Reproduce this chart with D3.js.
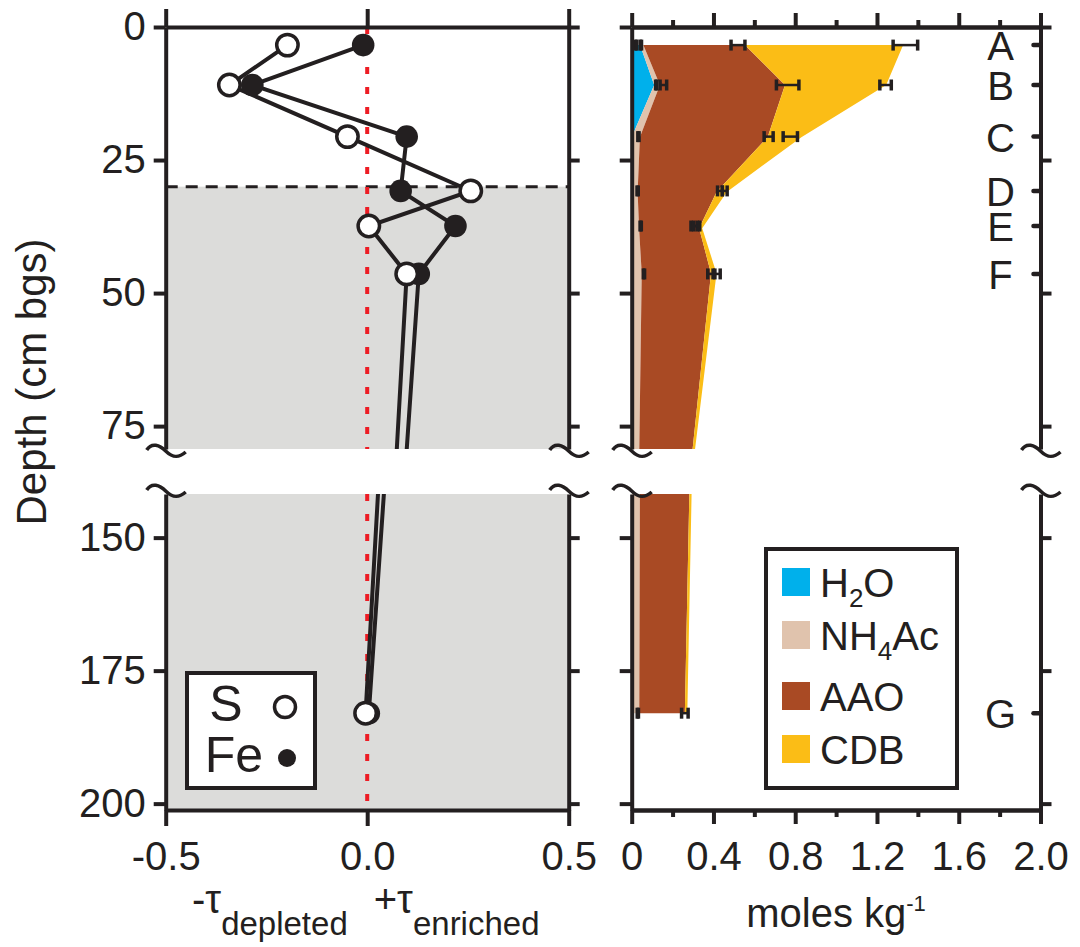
<!DOCTYPE html>
<html>
<head>
<meta charset="utf-8">
<script src="https://cdn.jsdelivr.net/npm/d3@7"></script>
<style>
  body { margin: 0; background: #fff; }
</style>
</head>
<body>
<script>
// ---- data ----
var sampleNames = ["A", "B", "C", "D", "E", "F", "G"];
var sampleDepth = [3.4, 10.9, 20.6, 30.8, 37.4, 46.4, 183];

// tau values (left panel)
var tauS = [-0.198, -0.342, -0.049, 0.257, 0.004, 0.098, -0.004];
var tauFe = [-0.01, -0.285, 0.098, 0.083, 0.219, 0.128, 0.004];

// sequential extractions, moles kg-1 (right panel)
var extractKeys = ["H2O", "NH4Ac", "AAO", "CDB"];
var extractDepth = [3.4, 10.9, 20.7, 31, 37.8, 46.3, 79.3, 141.8, 183];
var h2o = [0.041, 0.11, 0, 0, 0, 0, 0, 0, 0];
var nh4ac = [0.016, 0.028, 0.04, 0.029, 0.036, 0.049, 0.037, 0.04, 0.037];
var aao = [0.497, 0.612, 0.625, 0.386, 0.294, 0.339, 0.261, 0.242, 0.223];
var cdb = [0.774, 0.495, 0.165, 0.05, 0.015, 0.027, 0.012, 0.011, 0.012];

// error bars: sample, cumulative centre, half width
var errSample = ["A", "A", "A", "A", "B", "B", "B", "B", "C", "C", "C", "D", "D", "D", "E", "E", "E", "F", "F", "F", "G", "G"];
var errMid = [0.022, 0.045, 0.52, 1.339, 0.12, 0.155, 0.763, 1.242, 0.033, 0.67, 0.776, 0.029, 0.432, 0.455, 0.044, 0.305, 0.318, 0.06, 0.385, 0.42, 0.03, 0.26];
var errHalf = [0.003, 0.003, 0.034, 0.06, 0.003, 0.016, 0.055, 0.028, 0.003, 0.022, 0.035, 0.003, 0.012, 0.012, 0.003, 0.015, 0.015, 0.003, 0.013, 0.013, 0.003, 0.016];

// axis ticks
var tauTicks = [-0.5, 0, 0.5];
var molTicks = [0, 0.4, 0.8, 1.2, 1.6, 2.0];
var molMinor = [0.2, 0.6, 1.0, 1.4, 1.8];
var depthTicksUpper = [0, 25, 50, 75];
var depthTicksLower = [150, 175, 200];

var anoxicTop = 30;   // dashed line / grey zone top

var colors = { H2O: "#00b0eb", NH4Ac: "#e0c3ad", AAO: "#a94a24", CDB: "#fbbd16" };
var ink = "#231f20";
var FONT = "'Liberation Sans', Arial, Helvetica, sans-serif";

// ---- layout ----
var svgWidth = 1080;
var svgHeight = 947;

var svg = d3.select("body")
    .append("svg")
    .attr("width", svgWidth)
    .attr("height", svgHeight)
    .style("display", "block");

var xTau = d3.scaleLinear().domain([-0.5, 0.5]).range([165.7, 568.7]);
var xMol = d3.scaleLinear().domain([0, 2]).range([631.7, 1040.5]);

// broken depth axis: two linear pieces with the same px/cm
var yUp = d3.scaleLinear().domain([0, 79.3]).range([27, 449]);
var yLo = d3.scaleLinear().domain([141.8, 201.5]).range([494, 811.6]);

var segments = [
  { name: "up", y: yUp, top: 27, bottom: 449, ticks: depthTicksUpper, brk: 451 },
  { name: "lo", y: yLo, top: 494, bottom: 810, ticks: depthTicksLower, brk: 491 }
];

function yOf(depth) {
  return depth < 110 ? yUp(depth) : yLo(depth);
}

// plain hyphen for negatives, as in the original figure
var fmt1 = function (d) { return d3.format(".1f")(d).replace("\u2212", "-"); };

var defs = svg.append("defs");
segments.forEach(function (s) {
  defs.append("clipPath").attr("id", "clip-" + s.name)
      .append("rect")
      .attr("x", 0).attr("width", svgWidth)
      .attr("y", s.top).attr("height", s.bottom - s.top);
});

function styleAxis(g) {
  g.selectAll("path, line").attr("stroke", ink).attr("stroke-width", 4);
  g.selectAll("text").attr("font-family", FONT).attr("font-size", 40).attr("fill", ink);
}

// squiggle for the axis break
function drawBreak(x, y) {
  svg.append("path")
      .attr("d", "M-19,-1 C-14,-9 -6,-6 0,0 S12,8 20,1")
      .attr("transform", `translate(${x},${y})`)
      .attr("fill", "none")
      .attr("stroke", ink)
      .attr("stroke-width", 3.5);
}

// ================= left panel (tau) =================
var left = svg.append("g");

// grey zone below the dashed line
left.append("rect")
    .attr("x", xTau(-0.5)).attr("width", xTau(0.5) - xTau(-0.5))
    .attr("y", yUp(anoxicTop)).attr("height", yUp.range()[1] - yUp(anoxicTop))
    .attr("fill", "#dcdcda");
left.append("rect")
    .attr("x", xTau(-0.5)).attr("width", xTau(0.5) - xTau(-0.5))
    .attr("y", 494).attr("height", 810 - 494)
    .attr("fill", "#dcdcda");

left.append("line")
    .attr("x1", xTau(-0.5)).attr("x2", xTau(0.5))
    .attr("y1", yUp(anoxicTop)).attr("y2", yUp(anoxicTop))
    .attr("stroke", ink).attr("stroke-width", 3)
    .attr("stroke-dasharray", "12,8");

// red zero line
segments.forEach(function (s) {
  left.append("line")
      .attr("x1", xTau(0)).attr("x2", xTau(0))
      .attr("y1", s.top).attr("y2", s.bottom)
      .attr("stroke", "#ed1c24").attr("stroke-width", 4)
      .attr("stroke-dasharray", "7,13");
});

var tauRows = sampleDepth.map(function (d, i) {
  return { depth: d, S: tauS[i], Fe: tauFe[i] };
});

segments.forEach(function (s) {
  ["S", "Fe"].forEach(function (k) {
    var line = d3.line()
        .x(d => xTau(d[k]))
        .y(d => s.y(d.depth));
    left.append("path")
        .datum(tauRows)
        .attr("clip-path", "url(#clip-" + s.name + ")")
        .attr("d", line)
        .attr("fill", "none")
        .attr("stroke", ink)
        .attr("stroke-width", 4)
        .attr("stroke-linejoin", "miter");
  });
});

left.selectAll(".fe")
    .data(tauRows)
    .enter()
    .append("circle")
    .attr("class", "fe")
    .attr("cx", d => xTau(d.Fe))
    .attr("cy", d => yOf(d.depth))
    .attr("r", 11.3)
    .attr("fill", ink);

left.selectAll(".s")
    .data(tauRows)
    .enter()
    .append("circle")
    .attr("class", "s")
    .attr("cx", d => xTau(d.S))
    .attr("cy", d => yOf(d.depth))
    .attr("r", 10.7)
    .attr("fill", "#fff")
    .attr("stroke", ink)
    .attr("stroke-width", 3.5);

// ================= right panel (extractions) =================
var right = svg.append("g");

var extractRows = extractDepth.map(function (d, i) {
  return { depth: d, H2O: h2o[i], NH4Ac: nh4ac[i], AAO: aao[i], CDB: cdb[i] };
});
var stacked = d3.stack().keys(extractKeys)(extractRows);

segments.forEach(function (s) {
  var area = d3.area()
      .y(d => s.y(d.data.depth))
      .x0(d => xMol(d[0]))
      .x1(d => xMol(d[1]));
  right.append("g")
      .attr("clip-path", "url(#clip-" + s.name + ")")
      .selectAll("path")
      .data(stacked)
      .enter()
      .append("path")
      .attr("d", area)
      .attr("fill", d => colors[d.key]);
});

// error bars
var errRows = errMid.map(function (m, i) {
  return { depth: sampleDepth[sampleNames.indexOf(errSample[i])], lo: m - errHalf[i], hi: m + errHalf[i] };
});
var errG = right.selectAll(".err")
    .data(errRows)
    .enter()
    .append("g")
    .attr("class", "err")
    .attr("transform", d => `translate(0,${yOf(d.depth)})`);
errG.append("line")
    .attr("x1", d => xMol(d.lo)).attr("x2", d => xMol(d.hi))
    .attr("stroke", ink).attr("stroke-width", 2.5);
errG.append("line")
    .attr("x1", d => xMol(d.lo)).attr("x2", d => xMol(d.lo))
    .attr("y1", -5.5).attr("y2", 5.5)
    .attr("stroke", ink).attr("stroke-width", 3.5);
errG.append("line")
    .attr("x1", d => xMol(d.hi)).attr("x2", d => xMol(d.hi))
    .attr("y1", -5.5).attr("y2", 5.5)
    .attr("stroke", ink).attr("stroke-width", 3.5);

// ================= axes =================
// left panel
left.append("g")
    .attr("transform", `translate(0,27)`)
    .call(d3.axisTop(xTau).tickValues(tauTicks).tickSize(18).tickSizeOuter(0).tickFormat(""))
    .call(styleAxis);
left.append("g")
    .attr("transform", `translate(0,810)`)
    .call(d3.axisBottom(xTau).tickValues(tauTicks).tickSize(16).tickSizeOuter(0)
        .tickPadding(16).tickFormat(fmt1))
    .call(styleAxis);

// right panel
right.append("g")
    .attr("transform", `translate(0,27)`)
    .call(d3.axisTop(xMol).tickValues(molTicks).tickSize(14).tickSizeOuter(0).tickFormat(""))
    .call(styleAxis);
right.append("g")
    .attr("transform", `translate(0,27)`)
    .call(d3.axisTop(xMol).tickValues(molMinor).tickSize(7).tickSizeOuter(0).tickFormat(""))
    .call(styleAxis);
right.append("g")
    .attr("transform", `translate(0,810)`)
    .call(d3.axisBottom(xMol).tickValues(molTicks).tickSize(14).tickSizeOuter(0)
        .tickPadding(18).tickFormat(d => d === 0 ? "0" : fmt1(d)))
    .call(styleAxis);
right.append("g")
    .attr("transform", `translate(0,810)`)
    .call(d3.axisBottom(xMol).tickValues(molMinor).tickSize(7).tickSizeOuter(0).tickFormat(""))
    .call(styleAxis);

// depth axes for both panels, both segments
segments.forEach(function (s) {
  var yAxisScale = s.y.copy().domain([s.y.invert(s.top), s.y.invert(s.bottom)]).range([s.top, s.bottom]);

  left.append("g")
      .attr("transform", `translate(${xTau(-0.5)},0)`)
      .call(d3.axisLeft(yAxisScale).tickValues(s.ticks).tickSize(12).tickSizeOuter(0).tickPadding(8))
      .call(styleAxis);
  left.append("g")
      .attr("transform", `translate(${xTau(0.5)},0)`)
      .call(d3.axisRight(yAxisScale).tickValues(s.ticks).tickSize(11).tickSizeOuter(0).tickFormat(""))
      .call(styleAxis);
  right.append("g")
      .attr("transform", `translate(${xMol(0)},0)`)
      .call(d3.axisLeft(yAxisScale).tickValues(s.ticks).tickSize(12).tickSizeOuter(0).tickFormat(""))
      .call(styleAxis);
  right.append("g")
      .attr("transform", `translate(${xMol(2)},0)`)
      .call(d3.axisRight(yAxisScale).tickValues(s.ticks).tickSize(11).tickSizeOuter(0).tickFormat(""))
      .call(styleAxis);

  [xTau(-0.5), xTau(0.5), xMol(0), xMol(2)].forEach(function (x) {
    drawBreak(x, s.brk);
  });
});

// sample ticks and letters on the right axis
var sampleG = right.selectAll(".sample")
    .data(sampleNames)
    .enter()
    .append("g")
    .attr("class", "sample")
    .attr("transform", (d, i) => `translate(${xMol(2)},${yOf(sampleDepth[i])})`);
sampleG.append("line")
    .attr("x1", -7).attr("x2", 0)
    .attr("stroke", ink).attr("stroke-width", 4.5)
    .attr("stroke-linecap", "round");
sampleG.append("text")
    .attr("x", -40)
    .attr("y", 15)
    .attr("text-anchor", "middle")
    .attr("font-family", FONT)
    .attr("font-size", 40)
    .attr("fill", ink)
    .text(d => d);

// ================= legends =================
var legL = svg.append("g");
legL.append("rect")
    .attr("x", 187).attr("y", 673).attr("width", 128).attr("height", 115)
    .attr("fill", "#fff").attr("stroke", ink).attr("stroke-width", 4);
legL.append("text")
    .attr("x", 226).attr("y", 721)
    .attr("text-anchor", "middle")
    .attr("font-family", FONT).attr("font-size", 50).attr("fill", ink)
    .text("S");
legL.append("circle")
    .attr("cx", 285).attr("cy", 707).attr("r", 10.5)
    .attr("fill", "#fff").attr("stroke", ink).attr("stroke-width", 3.5);
legL.append("text")
    .attr("x", 234).attr("y", 772)
    .attr("text-anchor", "middle")
    .attr("font-family", FONT).attr("font-size", 50).attr("fill", ink)
    .text("Fe");
legL.append("circle")
    .attr("cx", 287).attr("cy", 758).attr("r", 9)
    .attr("fill", ink);

var legR = svg.append("g");
legR.append("rect")
    .attr("x", 766).attr("y", 549).attr("width", 191).attr("height", 239)
    .attr("fill", "#fff").attr("stroke", ink).attr("stroke-width", 4);

var legendLabels = [["H", "2", "O"], ["NH", "4", "Ac"], ["AAO", "", ""], ["CDB", "", ""]];
var legendY = [582, 635, 696, 749];
extractKeys.forEach(function (k, i) {
  legR.append("rect")
      .attr("x", 782).attr("y", legendY[i] - 14)
      .attr("width", 28).attr("height", 28)
      .attr("fill", colors[k]);
  var t = legR.append("text")
      .attr("x", 820).attr("y", legendY[i] + 15)
      .attr("font-family", FONT).attr("font-size", 40).attr("fill", ink);
  t.append("tspan").text(legendLabels[i][0]);
  if (legendLabels[i][1]) {
    t.append("tspan").attr("font-size", 26).attr("dy", 10).text(legendLabels[i][1]);
    t.append("tspan").attr("dy", -10).text(legendLabels[i][2]);
  }
});

// ================= axis titles =================
svg.append("text")
    .attr("transform", "translate(46,382) rotate(-90)")
    .attr("text-anchor", "middle")
    .attr("font-family", FONT).attr("font-size", 42).attr("fill", ink)
    .text("Depth (cm bgs)");

var tauTitle = svg.append("text")
    .attr("x", 192).attr("y", 913)
    .attr("font-family", FONT).attr("font-size", 40).attr("fill", ink);
tauTitle.append("tspan").text("-\u03c4");
tauTitle.append("tspan").attr("font-size", 33).attr("dy", 22).text("depleted");
tauTitle.append("tspan").attr("dy", -22).attr("dx", 26).text("+\u03c4");
tauTitle.append("tspan").attr("font-size", 33).attr("dy", 22).text("enriched");

var molTitle = svg.append("text")
    .attr("x", 836).attr("y", 927)
    .attr("text-anchor", "middle")
    .attr("font-family", FONT).attr("font-size", 40).attr("fill", ink);
molTitle.append("tspan").text("moles kg");
molTitle.append("tspan").attr("font-size", 22).attr("dy", -16).text("-1");
</script>
</body>
</html>
